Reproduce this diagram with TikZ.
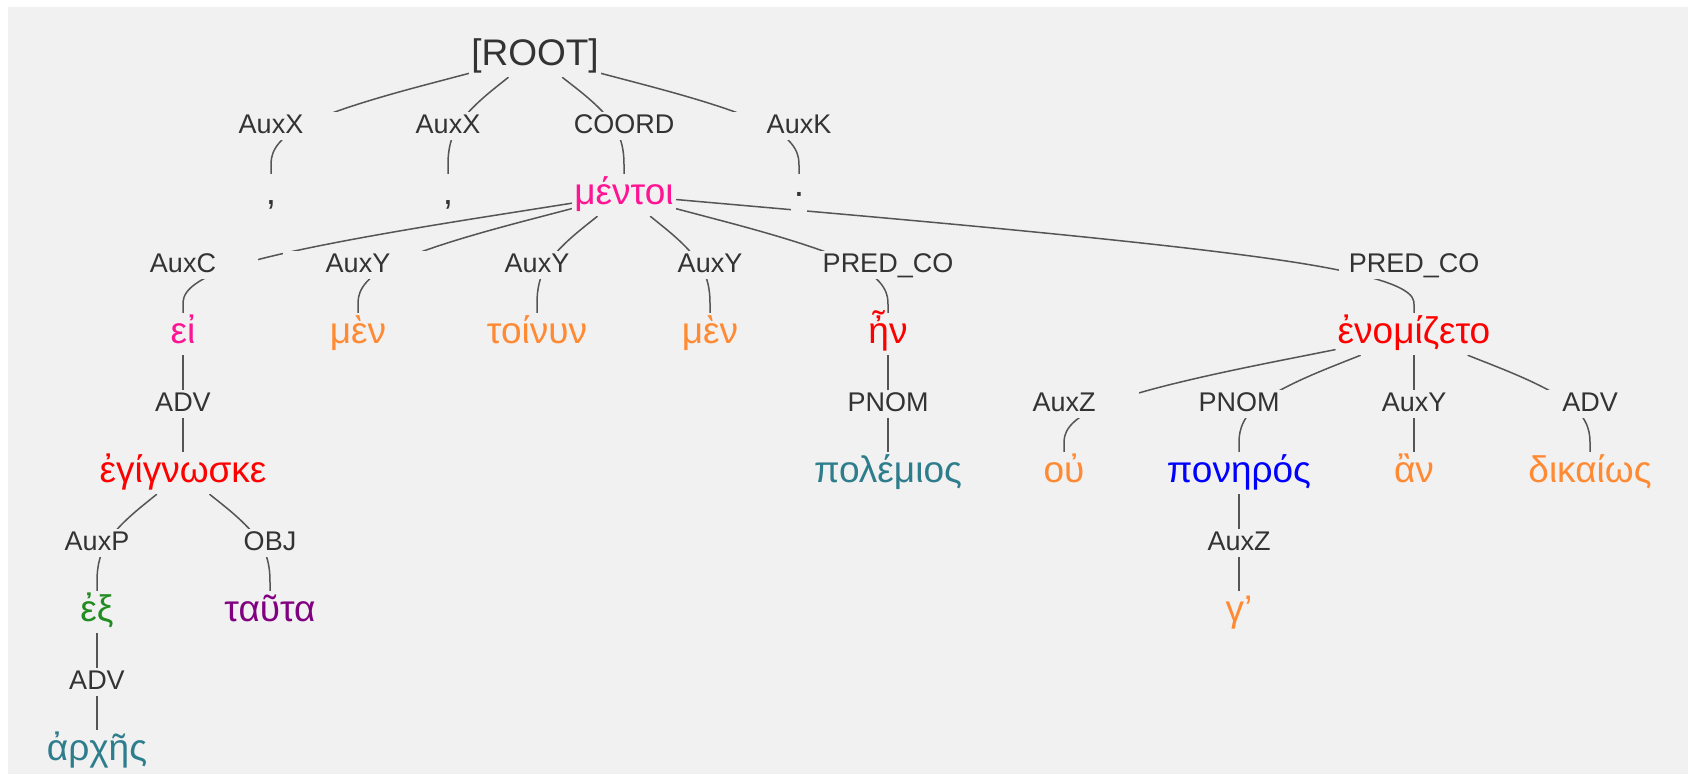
\documentclass[tikz,border=0pt]{standalone}
\usepackage{fontspec}
\setmainfont{Liberation Sans}
\usepackage{xcolor}
\usetikzlibrary{calc}
\definecolor{paper}{HTML}{F1F1F1}
\definecolor{labgray}{HTML}{333333}
\definecolor{edgegray}{HTML}{555555}
\definecolor{conjpink}{HTML}{FF1493}
\definecolor{verbred}{HTML}{FF0000}
\definecolor{partorange}{HTML}{FF8A33}
\definecolor{nounteal}{HTML}{2E7D8C}
\definecolor{adjblue}{HTML}{0000FF}
\definecolor{prepgreen}{HTML}{228B22}
\definecolor{pronpurple}{HTML}{800080}
\pgfdeclarelayer{paperlayer}
\pgfdeclarelayer{edgelayer}
\pgfsetlayers{paperlayer,edgelayer,main}

\begin{document}
\begin{tikzpicture}[x=1pt,y=-1pt,
  word/.style={fill=paper, inner xsep=2pt, inner ysep=2.5pt, text height=28pt, text depth=9pt, font=\fontsize{37}{40}\selectfont},
  rel/.style={fill=paper, text=labgray, minimum width=150pt, inner ysep=1pt, text height=21pt, text depth=5pt, font=\fontsize{27}{30}\selectfont},
  edge/.style={draw=edgegray, line width=1.5pt}]
\newcommand\ystep{139}
\newcommand\ytop{56}
% edge: parent, relation label, child (spline through the label)
\newcommand\treeedge[3]{%
  \path (#1) -- (#2.center) coordinate[pos=0] (e0);
  \path (#2.center) -- (#3) coordinate[pos=1] (e2);
  \draw[edge] (e0) -- ($(e0)!1/6!(#2.center)$)
    .. controls ($(e0)!1/3!(#2.center)$) and ($(e0)!2/3!(#2.center)$) .. ($(#2.center)!1/3!($(e0)!.5!(e2)$)$)
    .. controls ($(#2.center)!1/3!(e2)$) and ($(#2.center)!2/3!(e2)$) .. ($(#2.center)!5/6!(e2)$) -- (e2);
}
\useasboundingbox (0,0) rectangle (1688,774);
\begin{pgfonlayer}{paperlayer}
\fill[white] (0,0) rectangle (1688,774);
\fill[paper] (8,7) rectangle (1688,774);
\end{pgfonlayer}

% root
\node[word, text=labgray] (root) at (535, \ytop) {[ROOT]};

% level 1
\node[rel] (lAuxXa) at (271, \ytop+0.5*\ystep) {AuxX};
\node[rel] (lAuxXb) at (448, \ytop+0.5*\ystep) {AuxX};
\node[rel] (lCoord) at (624, \ytop+0.5*\ystep) {COORD};
\node[rel] (lAuxK) at (799, \ytop+0.5*\ystep) {AuxK};
\node[word, text=labgray] (commaa) at (271, \ytop+\ystep) {,};
\node[word, text=labgray] (commab) at (448, \ytop+\ystep) {,};
\node[word, text=conjpink] (mentoi) at (624, \ytop+\ystep) {μέντοι};
\node[word, text=labgray] (stop) at (799, \ytop+\ystep) {·};

% level 2
\node[rel] (lAuxC) at (183, \ytop+1.5*\ystep) {AuxC};
\node[rel] (lAuxYa) at (358, \ytop+1.5*\ystep) {AuxY};
\node[rel] (lAuxYb) at (537, \ytop+1.5*\ystep) {AuxY};
\node[rel] (lAuxYc) at (710, \ytop+1.5*\ystep) {AuxY};
\node[rel] (lPredCoa) at (888, \ytop+1.5*\ystep) {PRED\_CO};
\node[rel] (lPredCob) at (1414, \ytop+1.5*\ystep) {PRED\_CO};
\node[word, text=conjpink] (ei) at (183, \ytop+2*\ystep) {εἰ};
\node[word, text=partorange] (mena) at (358, \ytop+2*\ystep) {μὲν};
\node[word, text=partorange] (toinun) at (537, \ytop+2*\ystep) {τοίνυν};
\node[word, text=partorange] (menb) at (710, \ytop+2*\ystep) {μὲν};
\node[word, text=verbred] (en) at (888, \ytop+2*\ystep) {ἦν};
\node[word, text=verbred] (enomizeto) at (1414, \ytop+2*\ystep) {ἐνομίζετο};

% level 3
\node[rel] (lAdva) at (183, \ytop+2.5*\ystep) {ADV};
\node[rel] (lPnoma) at (888, \ytop+2.5*\ystep) {PNOM};
\node[rel] (lAuxZa) at (1064, \ytop+2.5*\ystep) {AuxZ};
\node[rel] (lPnomb) at (1239, \ytop+2.5*\ystep) {PNOM};
\node[rel] (lAuxYd) at (1414, \ytop+2.5*\ystep) {AuxY};
\node[rel] (lAdvb) at (1590, \ytop+2.5*\ystep) {ADV};
\node[word, text=verbred] (egignoske) at (183, \ytop+3*\ystep) {ἐγίγνωσκε};
\node[word, text=nounteal] (polemios) at (888, \ytop+3*\ystep) {πολέμιος};
\node[word, text=partorange] (ou) at (1064, \ytop+3*\ystep) {οὐ};
\node[word, text=adjblue] (poneros) at (1239, \ytop+3*\ystep) {πονηρός};
\node[word, text=partorange] (an) at (1414, \ytop+3*\ystep) {ἂν};
\node[word, text=partorange] (dikaios) at (1590, \ytop+3*\ystep) {δικαίως};

% level 4
\node[rel] (lAuxP) at (97, \ytop+3.5*\ystep) {AuxP};
\node[rel] (lObj) at (270, \ytop+3.5*\ystep) {OBJ};
\node[rel] (lAuxZb) at (1239, \ytop+3.5*\ystep) {AuxZ};
\node[word, text=prepgreen] (ex) at (97, \ytop+4*\ystep) {ἐξ};
\node[word, text=pronpurple] (tauta) at (270, \ytop+4*\ystep) {ταῦτα};
\node[word, text=partorange] (ge) at (1239, \ytop+4*\ystep) {γ’};

% level 5
\node[rel] (lAdvc) at (97, \ytop+4.5*\ystep) {ADV};
\node[word, text=nounteal] (arches) at (97, \ytop+5*\ystep) {ἀρχῆς};

% edges, behind the labels
\begin{pgfonlayer}{edgelayer}
\foreach \from/\via/\to in {root/lAuxXa/commaa, root/lAuxXb/commab, root/lCoord/mentoi, root/lAuxK/stop,
  mentoi/lAuxC/ei, mentoi/lAuxYa/mena, mentoi/lAuxYb/toinun, mentoi/lAuxYc/menb,
  mentoi/lPredCoa/en, mentoi/lPredCob/enomizeto,
  ei/lAdva/egignoske, en/lPnoma/polemios,
  enomizeto/lAuxZa/ou, enomizeto/lPnomb/poneros, enomizeto/lAuxYd/an, enomizeto/lAdvb/dikaios,
  egignoske/lAuxP/ex, egignoske/lObj/tauta, poneros/lAuxZb/ge, ex/lAdvc/arches}
  \treeedge{\from}{\via}{\to};
\end{pgfonlayer}
\end{tikzpicture}
\end{document}
